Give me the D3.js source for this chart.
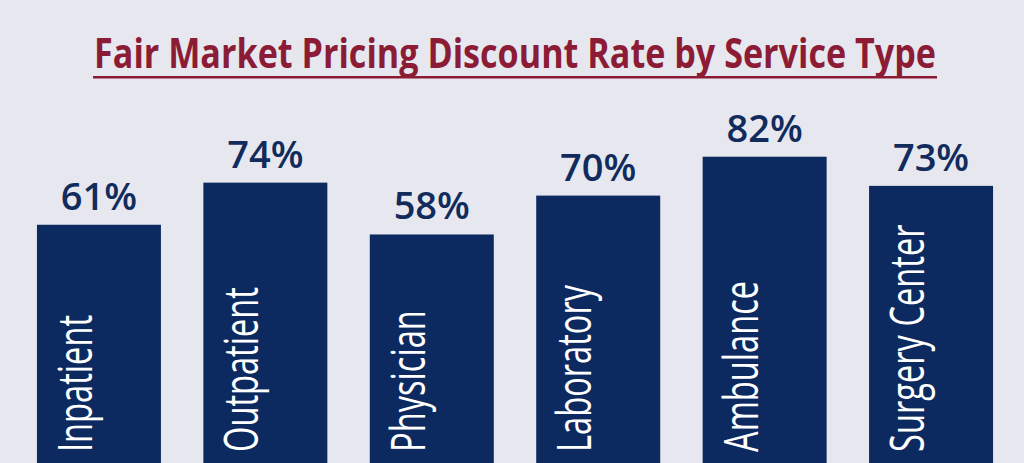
<!DOCTYPE html>
<html>
<head>
<meta charset="utf-8">
<script src="https://cdn.jsdelivr.net/npm/d3@7"></script>
<style>
  html, body { margin: 0; padding: 0; background: #e7e7ef; }
  svg { display: block; }
</style>
</head>
<body>
<svg id="chart" width="1024" height="463"></svg>
<script>
const titleText = "Fair Market Pricing Discount Rate by Service Type";
const categories = ["Inpatient", "Outpatient", "Physician", "Laboratory", "Ambulance", "Surgery Center"];
const values = [61, 74, 58, 70, 82, 73];
const valueLabels = ["61%", "74%", "58%", "70%", "82%", "73%"];

const W = 1024, H = 463;
const svg = d3.select("#chart");

svg.append("rect").attr("width", W).attr("height", H).attr("fill", "#e7e7ef");

const x = d3.scaleBand()
  .domain(categories)
  .range([0, 1030])
  .paddingInner(0.255)
  .paddingOuter(0.222);

const y = d3.scaleLinear().domain([0, 100]).range([422.4, 98.4]);

const data = categories.map((c, i) => ({ c, v: values[i], label: valueLabels[i] }));

// Bars
svg.selectAll("rect.bar")
  .data(data)
  .join("rect")
  .attr("class", "bar")
  .attr("x", d => x(d.c))
  .attr("y", d => y(d.v))
  .attr("width", x.bandwidth())
  .attr("height", d => H - y(d.v))
  .attr("fill", "#0c2a5f");

// Value labels
svg.selectAll("text.val")
  .data(data)
  .join("text")
  .attr("class", "val")
  .attr("x", d => x(d.c) + x.bandwidth() / 2)
  .attr("y", d => y(d.v) - 15)
  .attr("text-anchor", "middle")
  .attr("font-family", "'Open Sans', sans-serif")
  .attr("font-weight", 600)
  .attr("font-size", 38)
  .attr("fill", "#102b5c")
  .text(d => d.label);

// Category labels (rotated, inside bars, condensed)
const condense = 0.68;
svg.selectAll("text.cat")
  .data(data)
  .join("text")
  .attr("class", "cat")
  .attr("transform", d => `translate(${x(d.c) + 55},452) rotate(-90) scale(${condense},1)`)
  .attr("text-anchor", "start")
  .attr("font-family", "'Open Sans', sans-serif")
  .attr("font-size", 48)
  .attr("fill", "#ffffff")
  .text(d => d.c);

// Title (condensed bold)
const titleG = svg.append("g");
const title = titleG.append("text")
  .attr("x", 0)
  .attr("y", 0)
  .attr("text-anchor", "middle")
  .attr("font-family", "'Open Sans', sans-serif")
  .attr("font-weight", 700)
  .attr("font-size", 42)
  .attr("fill", "#8c1c36")
  .text(titleText);
const tLen = title.node().getComputedTextLength();
const tScale = 842 / tLen;
titleG.attr("transform", `translate(515,68) scale(${tScale},1)`);

svg.append("rect")
  .attr("x", 93)
  .attr("y", 76)
  .attr("width", 844)
  .attr("height", 2.5)
  .attr("fill", "#8c1c36");
</script>
</body>
</html>
